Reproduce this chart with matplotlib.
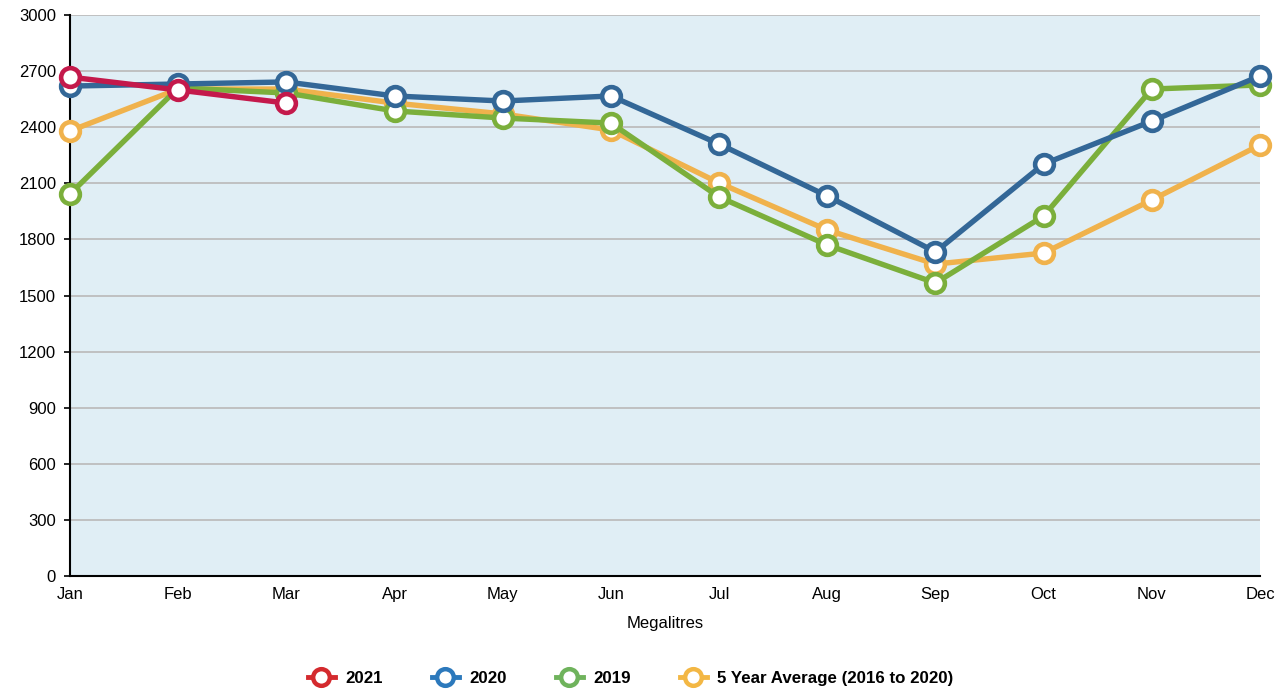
import matplotlib.pyplot as plt
from matplotlib.lines import Line2D

plt.rcParams['font.family'] = ['Liberation Sans', 'DejaVu Sans']

months = ['Jan', 'Feb', 'Mar', 'Apr', 'May', 'Jun', 'Jul', 'Aug', 'Sep', 'Oct', 'Nov', 'Dec']
y2021 = [2668, 2599, 2529]
y2020 = [2620, 2631, 2642, 2567, 2540, 2567, 2310, 2032, 1733, 2203, 2433, 2674]
y2019 = [2043, 2610, 2583, 2487, 2449, 2422, 2027, 1770, 1567, 1925, 2604, 2626]
avg5 = [2380, 2604, 2604, 2529, 2471, 2385, 2102, 1850, 1668, 1727, 2011, 2305]
yticks = list(range(0, 3001, 300))

# line colours and (slightly different) legend colours
line_cols = {'2021': '#C4194B', '2020': '#336797', '2019': '#7BAF3B', 'avg': '#F0B24C'}
leg_cols = {'2021': '#D42A2E', '2020': '#2C79BC', '2019': '#6FB35C', 'avg': '#F3B744'}

fig = plt.figure(figsize=(12.84, 6.9), dpi=100)
ax = fig.add_axes([70 / 1284, 114 / 690, 1190 / 1284, 561 / 690])
ax.set_facecolor('#E0EEF5')

x = list(range(len(months)))
style = dict(lw=3.9, marker='o', ms=13.5, mfc='white', mew=3.3, clip_on=False)
ax.plot(x, avg5, color=line_cols['avg'], zorder=3, **style)
ax.plot(x, y2019, color=line_cols['2019'], zorder=4, **style)
ax.plot(x, y2020, color=line_cols['2020'], zorder=5, **style)
ax.plot(x[:len(y2021)], y2021, color=line_cols['2021'], zorder=6, **style)

ax.set_xlim(0, 11)
ax.set_ylim(0, 3000)
ax.set_xticks(x)
ax.set_xticklabels(months)
ax.set_yticks(yticks)
ax.tick_params(axis='x', length=0, labelsize=12, pad=8)
ax.tick_params(axis='y', length=4, width=1.2, labelsize=12, pad=6)
ax.grid(axis='y', color='#BDBDBD', lw=1.3)
ax.set_axisbelow(True)
for s in ['top', 'right']:
    ax.spines[s].set_visible(False)
ax.spines['left'].set_linewidth(1.5)
ax.spines['bottom'].set_linewidth(1.5)
ax.set_xlabel('Megalitres', fontsize=12, labelpad=10)

labels = ['2021', '2020', '2019', '5 Year Average (2016 to 2020)']
keys = ['2021', '2020', '2019', 'avg']
handles = [Line2D([0], [0], color=leg_cols[k], lw=3.5, marker='o', ms=12,
                  mfc='white', mew=3.2) for k in keys]
fig.legend(handles, labels, loc='center', bbox_to_anchor=(0.491, 0.017), ncol=4,
           frameon=False, handlelength=1.6, columnspacing=2.9, handletextpad=0.6,
           prop={'weight': 'bold', 'size': 12.2})

fig.savefig('out.png', dpi=100)
